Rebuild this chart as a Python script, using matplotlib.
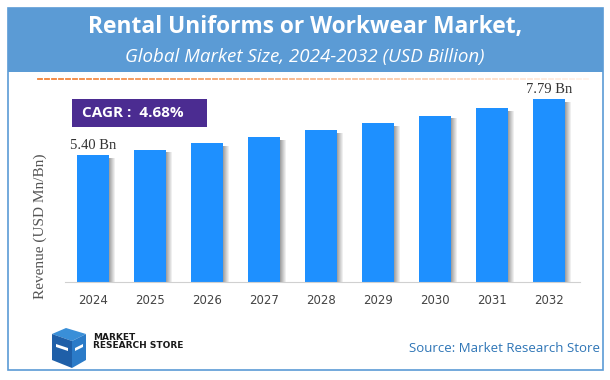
import matplotlib
matplotlib.use("Agg")
import matplotlib.pyplot as plt
from matplotlib.patches import Rectangle, Polygon
import numpy as np

years = ["2024", "2025", "2026", "2027", "2028", "2029", "2030", "2031", "2032"]
values = [5.40, 5.65, 5.92, 6.19, 6.48, 6.79, 7.10, 7.43, 7.79]
first_label = "5.40 Bn"
last_label = "7.79 Bn"
title = "Rental Uniforms or Workwear Market,"
subtitle = "Global Market Size, 2024-2032 (USD Billion)"
cagr_text = "CAGR :  4.68%"
ylabel = "Revenue (USD Mn/Bn)"
source = "Source: Market Research Store"

W, H = 610, 380
fig = plt.figure(figsize=(W / 100, H / 100), dpi=100)

def fx(x):
    return x / W

def fy(y):
    return 1 - y / H

# outer border
fig.patches.append(Rectangle((fx(8), fy(370)), fx(595), (370 - 8) / H, transform=fig.transFigure,
                             facecolor="white", edgecolor="#5B9BD5", lw=1.2, zorder=-2))
# header band
fig.patches.append(Rectangle((fx(8), fy(72)), fx(595), (72 - 8) / H, transform=fig.transFigure,
                             facecolor="#5B9BD5", edgecolor="none", zorder=-1))
fig.text(0.5, fy(27), title, ha="center", va="center", color="white", fontsize=16.4,
         fontweight="bold", family="Open Sans")
fig.text(0.5, fy(57), subtitle, ha="center", va="center", color="white", fontsize=13.5,
         style="italic", family="Open Sans")

# dashed gradient line
xs = np.arange(38, 586, 7)
for i, x0 in enumerate(xs):
    t = i / (len(xs) - 1)
    col = (0.95 + 0.05 * t, 0.50 + 0.45 * t, 0.20 + 0.72 * t)
    fig.lines.append(plt.Line2D([fx(x0), fx(x0 + 4)], [fy(79), fy(79)], transform=fig.transFigure,
                                color=col, lw=1.3))

# axes
left, right, base, top = 65, 580, 282, 79
ax = fig.add_axes([fx(left), fy(base), (right - left) / W, (base - top) / H])
ax.set_zorder(2)
ax.set_facecolor("none")
n = len(years)
x = np.arange(n)
bw = 0.56
ax.set_xlim(-0.49, 8.54)
ax.set_ylim(0, (base - top) / 23.45)

# shadows
for xi, v in zip(x, values):
    for k in range(6):
        ax.add_patch(Rectangle((xi + bw / 2 + k * 0.018, 0), 0.018, v - 0.12, facecolor="#555555",
                               alpha=0.55 * (1 - k / 6), edgecolor="none", zorder=1))
ax.bar(x, values, width=bw, color="#1E90FF", zorder=2)

ax.text(x[0], values[0] + 0.15, first_label, ha="center", va="bottom", family="Liberation Serif",
        fontsize=10.5, color="#333333")
ax.text(x[-1], values[-1] + 0.15, last_label, ha="center", va="bottom", family="Liberation Serif",
        fontsize=10.5, color="#333333")

for s in ["left", "right", "top"]:
    ax.spines[s].set_visible(False)
ax.spines["bottom"].set_color("#D0D0D0")
ax.set_yticks([])
ax.set_xticks(x)
ax.set_xticklabels(years, fontsize=8.5, color="#444444", family="DejaVu Sans")
ax.tick_params(axis="x", length=0, pad=9)

fig.text(fx(40), fy(226), ylabel, rotation=90, ha="center", va="center", family="Liberation Serif",
         fontsize=11, color="#555555")

# CAGR box
fig.patches.append(Rectangle((fx(72), fy(127)), fx(135), (127 - 99) / H, transform=fig.transFigure,
                             facecolor="#4B2C91", edgecolor="none", zorder=3))
fig.text(fx(133), fy(113), cagr_text, ha="center", va="center", color="white", fontsize=11,
         fontweight="bold", family="Open Sans", zorder=4)

# logo (simple cube glyph)
def poly(pts, color):
    fig.patches.append(Polygon([(fx(a), fy(b)) for a, b in pts], closed=True, transform=fig.transFigure,
                               facecolor=color, edgecolor="none", zorder=3))

poly([(52, 334), (66, 328), (86, 334), (72, 341)], "#3A8FD8")
poly([(52, 334), (72, 341), (72, 368), (52, 360)], "#1F5FA8")
poly([(72, 341), (86, 334), (86, 360), (72, 368)], "#2B7BC8")
poly([(56, 344), (68, 348), (68, 351), (56, 347)], "white")
poly([(75, 348), (83, 344), (83, 347), (75, 351)], "white")
fig.text(fx(93), fy(338), "MARKET", ha="left", va="center", fontsize=6.5, fontweight="bold",
         family="DejaVu Sans", color="#1a1a1a")
fig.text(fx(93), fy(346), "RESEARCH STORE", ha="left", va="center", fontsize=6.5, fontweight="bold",
         family="DejaVu Sans", color="#1a1a1a")

fig.text(fx(600), fy(348), source, ha="right", va="center", fontsize=9.5, color="#2E75B6",
         family="Open Sans")

fig.savefig("out.png", dpi=100)
